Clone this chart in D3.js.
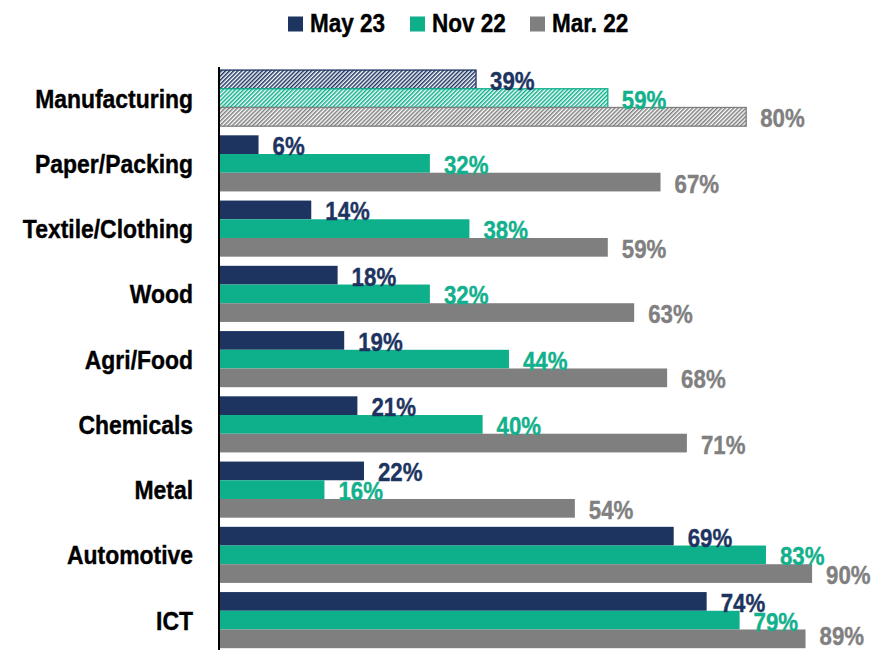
<!DOCTYPE html>
<html>
<head>
<meta charset="utf-8">
<script src="https://cdn.jsdelivr.net/npm/d3@7"></script>
<style>
  body { margin: 0; background: #fff; }
  text { font-family: "Liberation Sans", Arial, sans-serif; font-weight: bold; }
</style>
</head>
<body>
<svg width="887" height="650"></svg>
<script>
// data
const categories = ["Manufacturing", "Paper/Packing", "Textile/Clothing", "Wood", "Agri/Food", "Chemicals", "Metal", "Automotive", "ICT"];
const seriesNames = ["May 23", "Nov 22", "Mar. 22"];
const may23 = [39, 6, 14, 18, 19, 21, 22, 69, 74];
const nov22 = [59, 32, 38, 32, 44, 40, 16, 83, 79];
const mar22 = [80, 67, 59, 63, 68, 71, 54, 90, 89];

const colors = ["#1d3461", "#0db08b", "#7f7f7f"];
const labelColors = ["#1d3461", "#12b08c", "#808080"];
const fontSize = 26.5;

const svg = d3.select("svg");

const series = [may23, nov22, mar22];
const rows = [];
categories.forEach((c, i) => {
  series.forEach((s, j) => rows.push({ cat: c, key: seriesNames[j], idx: j, value: s[i], hatched: i === 0 }));
});

// scales
const x = d3.scaleLinear().domain([0, 100]).range([219, 878]);
const y = d3.scaleBand().domain(categories).range([65.5, 652.75]).paddingInner(0.14).paddingOuter(0.07);
const ySub = d3.scaleBand().domain(seriesNames).range([0, y.bandwidth()]);

// hatch patterns
const defs = svg.append("defs");
colors.forEach((col, j) => {
  const p = defs.append("pattern")
    .attr("id", "hatch" + j)
    .attr("patternUnits", "userSpaceOnUse")
    .attr("width", 2.9).attr("height", 8)
    .attr("patternTransform", "rotate(45)");
  p.append("rect").attr("width", 2.9).attr("height", 8).attr("fill", "#fff");
  p.append("rect").attr("width", 1.5).attr("height", 8).attr("fill", col);
});

// bars
svg.append("g").selectAll("rect")
  .data(rows)
  .join("rect")
  .attr("x", x(0))
  .attr("y", d => y(d.cat) + ySub(d.key))
  .attr("width", d => x(d.value) - x(0))
  .attr("height", ySub.bandwidth())
  .attr("fill", d => d.hatched ? "url(#hatch" + d.idx + ")" : colors[d.idx])
  .attr("stroke", d => d.hatched ? colors[d.idx] : "none")
  .attr("stroke-width", 1.3);

// value labels (kept inside the bottom edge)
svg.append("g").selectAll("text")
  .data(rows)
  .join("text")
  .attr("transform", d => {
    const by = Math.min(y(d.cat) + ySub(d.key) + ySub.bandwidth() / 2 + 10.5, 644.5);
    return `translate(${x(d.value) + 14},${by}) scale(0.84,1)`;
  })
  .attr("fill", d => labelColors[d.idx])
  .attr("stroke", d => labelColors[d.idx])
  .attr("stroke-width", 0.4)
  .style("font-size", fontSize + "px")
  .text(d => d.value + "%");

// y axis line + category labels
const yAxis = d3.axisLeft(y).tickSize(0).tickPadding(0);
const gy = svg.append("g").attr("transform", "translate(219,0)").call(yAxis);
gy.select(".domain").attr("d", "M0,67V650").attr("stroke", "#000").attr("stroke-width", 2);
gy.selectAll(".tick text")
  .attr("x", null).attr("dy", null)
  .attr("transform", "translate(-26,9.5) scale(0.865,1)")
  .attr("text-anchor", "end")
  .attr("fill", "#000")
  .attr("stroke", "#000")
  .attr("stroke-width", 0.4)
  .style("font-size", fontSize + "px")
  .style("font-family", "'Liberation Sans', Arial, sans-serif")
  .style("font-weight", "bold");

// legend
const legendX = [288, 410, 530];
const legend = svg.append("g").selectAll("g")
  .data(seriesNames)
  .join("g")
  .attr("transform", (d, i) => `translate(${legendX[i]},0)`);
legend.append("rect")
  .attr("y", 16.5).attr("width", 15).attr("height", 15)
  .attr("fill", (d, i) => colors[i]);
legend.append("text")
  .attr("transform", "translate(22,31.5) scale(0.85,1)")
  .attr("fill", "#000")
  .attr("stroke", "#000")
  .attr("stroke-width", 0.4)
  .style("font-size", fontSize + "px")
  .text(d => d);
</script>
</body>
</html>
